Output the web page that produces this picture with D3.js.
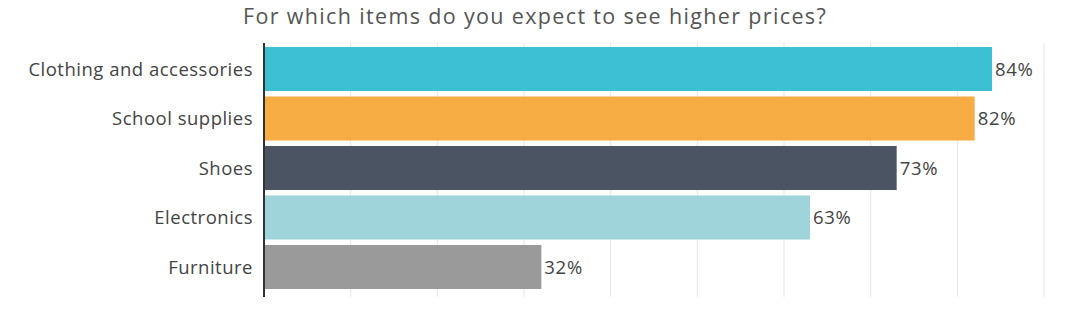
<!DOCTYPE html>
<html><head><meta charset="utf-8">
<script src="https://cdn.jsdelivr.net/npm/d3@7"></script>
<style>body{margin:0;background:#fff;}svg{display:block;}</style>
</head><body>
<svg id="chart" width="1080" height="317"></svg>
<script>
const categories = ["Clothing and accessories","School supplies","Shoes","Electronics","Furniture"];
const values = [84, 82, 73, 63, 32];
const colors = ["#3cc1d3","#f8ac44","#4a5462","#9fd5da","#9a9a9a"];
const gridTicks = [10,20,30,40,50,60,70,80,90];
const title = "For which items do you expect to see higher prices?";

const svg = d3.select("#chart");
const font = "'Open Sans', sans-serif";
const x0 = 264, x1 = 1044, yTop = 43, yBot = 297;
const x = d3.scaleLinear().domain([0, 90]).range([x0, x1]);
const y = d3.scaleBand().domain(categories).range([46, 290]).paddingInner(0.11).paddingOuter(0.02);

svg.append("text").attr("x", 535).attr("y", 23.5).attr("text-anchor","middle")
  .attr("font-family",font).attr("font-size",21.5).attr("fill","#555")
  .attr("letter-spacing", 1.35)
  .text(title);

svg.append("g").selectAll("line").data(gridTicks).join("line")
  .attr("x1", d=>x(d)).attr("x2", d=>x(d)).attr("y1", yTop).attr("y2", yBot)
  .attr("stroke","#e6e6e6").attr("stroke-width",1);

svg.append("g").selectAll("rect").data(categories).join("rect")
  .attr("x", x(0)).attr("y", d=>y(d)).attr("height", y.bandwidth())
  .attr("width", (d,i)=>x(values[i])-x(0)).attr("fill",(d,i)=>colors[i]);

svg.append("line").attr("x1",x0).attr("x2",x0).attr("y1",yTop).attr("y2",yBot)
  .attr("stroke","#333").attr("stroke-width",2);

svg.append("g").selectAll("text").data(categories).join("text")
  .attr("x", 253).attr("y", d=>y(d)+y.bandwidth()/2).attr("dy","0.36em")
  .attr("text-anchor","end").attr("font-family",font).attr("letter-spacing",0.5)
  .attr("font-size",18.5).attr("fill","#444").text(d=>d);

svg.append("g").selectAll("text").data(categories).join("text")
  .attr("x", (d,i)=>x(values[i])+3).attr("y", d=>y(d)+y.bandwidth()/2).attr("dy","0.36em")
  .attr("font-family",font).attr("letter-spacing",0.7)
  .attr("font-size",18.5).attr("fill","#444").text((d,i)=>values[i]+"%");
</script>
</body></html>
